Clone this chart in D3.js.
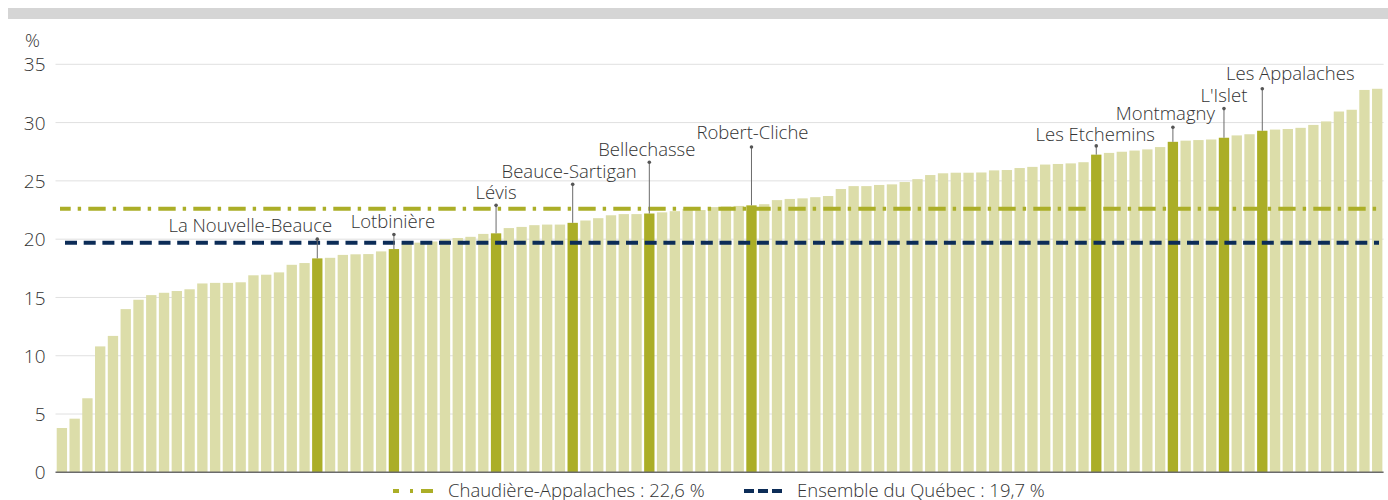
<!DOCTYPE html>
<html>
<head>
<meta charset="utf-8">
<script src="https://cdn.jsdelivr.net/npm/d3@7"></script>
<style>
  body { margin: 0; background: #fff; }
  svg text { font-family: "Open Sans", "Noto Sans", sans-serif; font-weight: 300; fill: #333; }
</style>
</head>
<body>
<svg id="chart" width="1388" height="500"></svg>
<script>
// values, sorted, one per MRC
const values = [
  3.8, 4.6, 6.35, 10.8, 11.7, 14.0, 14.8, 15.2, 15.4, 15.55,
  15.7, 16.2, 16.25, 16.25, 16.3, 16.9, 16.95, 17.15, 17.8, 17.95,
  18.35, 18.4, 18.65, 18.7, 18.72, 18.95, 19.15, 19.65, 19.7, 19.8,
  20.0, 20.1, 20.2, 20.45, 20.5, 20.95, 21.05, 21.2, 21.25, 21.25,
  21.4, 21.6, 21.8, 22.05, 22.15, 22.15, 22.2, 22.3, 22.4, 22.6,
  22.5, 22.75, 22.8, 22.85, 22.9, 23.0, 23.35, 23.45, 23.5, 23.6,
  23.7, 24.3, 24.55, 24.55, 24.65, 24.7, 24.9, 25.15, 25.5, 25.65,
  25.7, 25.7, 25.72, 25.9, 25.93, 26.1, 26.2, 26.4, 26.45, 26.5,
  26.6, 27.25, 27.4, 27.5, 27.6, 27.7, 27.9, 28.35, 28.45, 28.5,
  28.55, 28.7, 28.9, 29.0, 29.3, 29.4, 29.45, 29.55, 29.8, 30.1,
  30.95, 31.1, 32.8, 32.9
];

// highlighted MRC of Chaudière-Appalaches: index in values, name, leader height (%)
const highlightIndex = [20, 26, 34, 40, 46, 54, 81, 87, 91, 94];
const highlightName = ["La Nouvelle-Beauce", "Lotbinière", "Lévis", "Beauce-Sartigan", "Bellechasse",
  "Robert-Cliche", "Les Etchemins", "Montmagny", "L'Islet", "Les Appalaches"];
const leaderTop = [20.0, 20.4, 22.9, 24.7, 26.6, 27.9, 28.0, 29.6, 31.2, 32.9];
// label shift from the leader (px)
const labelDx = [-67, -1, 0, -3.5, -2.5, 1, -1, -7.5, 0, 28];
const labelDy = [-7, -6.3, -6.3, -6, -6.3, -8.4, -5, -7.3, -6.3, -9];

const yTicks = [0, 5, 10, 15, 20, 25, 30, 35];

const refNames = ["Chaudière-Appalaches : 22,6 %", "Ensemble du Québec : 19,7 %"];
const refValues = [22.6, 19.7];

const svg = d3.select("#chart");
const plotLeft = 55.5, plotRight = 1383.6, plotBottom = 472.3, plotTop = 64.3;

const x = d3.scaleBand()
  .domain(d3.range(values.length))
  .range([plotLeft, plotRight])
  .paddingInner(0.19)
  .paddingOuter(0.095);

const y = d3.scaleLinear().domain([0, 35]).range([plotBottom, plotTop]);

// grey band on top
svg.append("rect").attr("x", 8).attr("y", 8).attr("width", 1380).attr("height", 11).attr("fill", "#d5d5d5");

// grid
svg.append("g").selectAll("line")
  .data(yTicks.filter(d => d > 0))
  .enter().append("line")
  .attr("x1", plotLeft).attr("x2", plotRight)
  .attr("y1", d => y(d)).attr("y2", d => y(d))
  .attr("stroke", "#e0e0e0").attr("stroke-width", 1);

// y labels
const yAxis = d3.axisLeft(y).tickValues(yTicks).tickSize(0).tickPadding(10);
const gy = svg.append("g").attr("transform", `translate(${plotLeft},0)`).call(yAxis);
gy.select(".domain").remove();
gy.selectAll("text").style("font-size", "19px").attr("fill", "#333").attr("dy", "0.35em")
  .style("font-family", "'Open Sans', sans-serif").style("font-weight", 300);

svg.append("text").attr("x", 25).attr("y", 47).style("font-size", "18.5px").text("%");

// bars
const hiSet = new Set(highlightIndex);
svg.append("g").selectAll("rect")
  .data(values)
  .enter().append("rect")
  .attr("x", (d, i) => x(i))
  .attr("width", x.bandwidth())
  .attr("y", d => y(d))
  .attr("height", d => y(0) - y(d))
  .attr("fill", (d, i) => hiSet.has(i) ? "#abae27" : "#dcdda9");

// reference lines
const refG = svg.append("g");
refG.append("line")
  .attr("x1", 60).attr("x2", 1379)
  .attr("y1", y(refValues[0])).attr("y2", y(refValues[0]))
  .attr("stroke", "#abae27").attr("stroke-width", 4)
  .attr("stroke-dasharray", "17.4,7,3.4,7.2")
  .attr("stroke-dashoffset", 6.7);
refG.append("line")
  .attr("x1", 60).attr("x2", 1379)
  .attr("y1", y(refValues[1])).attr("y2", y(refValues[1]))
  .attr("stroke", "#0c2c57").attr("stroke-width", 4)
  .attr("stroke-dasharray", "12,6.7")
  .attr("stroke-dashoffset", -5);

// zero line
svg.append("line").attr("x1", plotLeft).attr("x2", plotRight)
  .attr("y1", y(0)).attr("y2", y(0))
  .attr("stroke", "#6b6b6b").attr("stroke-width", 1.5);

// annotations
const ann = svg.append("g");
highlightIndex.forEach((idx, k) => {
  const cx = x(idx) + x.bandwidth() / 2;
  const ty = y(leaderTop[k]);
  ann.append("line").attr("x1", cx).attr("x2", cx)
    .attr("y1", y(values[idx])).attr("y2", ty)
    .attr("stroke", "#6b6b6b").attr("stroke-width", 1);
  ann.append("circle").attr("cx", cx).attr("cy", ty).attr("r", 1.8).attr("fill", "#555");
  ann.append("text")
    .attr("x", cx + labelDx[k])
    .attr("y", ty + labelDy[k])
    .attr("text-anchor", "middle")
    .style("font-size", "18.5px")
    .text(highlightName[k]);
});

// legend
const lg = svg.append("g");
const ly = 491;
lg.append("line").attr("x1", 393).attr("x2", 433).attr("y1", ly).attr("y2", ly)
  .attr("stroke", "#abae27").attr("stroke-width", 4).attr("stroke-dasharray", "6,11,3,8,12");
lg.append("text").attr("x", 448).attr("y", ly).attr("dy", "0.35em").style("font-size", "18.5px").text(refNames[0]);
lg.append("line").attr("x1", 744).attr("x2", 784).attr("y1", ly).attr("y2", ly)
  .attr("stroke", "#0c2c57").attr("stroke-width", 4).attr("stroke-dasharray", "10,4");
lg.append("text").attr("x", 797).attr("y", ly).attr("dy", "0.35em").style("font-size", "18.5px").text(refNames[1]);
</script>
</body>
</html>
